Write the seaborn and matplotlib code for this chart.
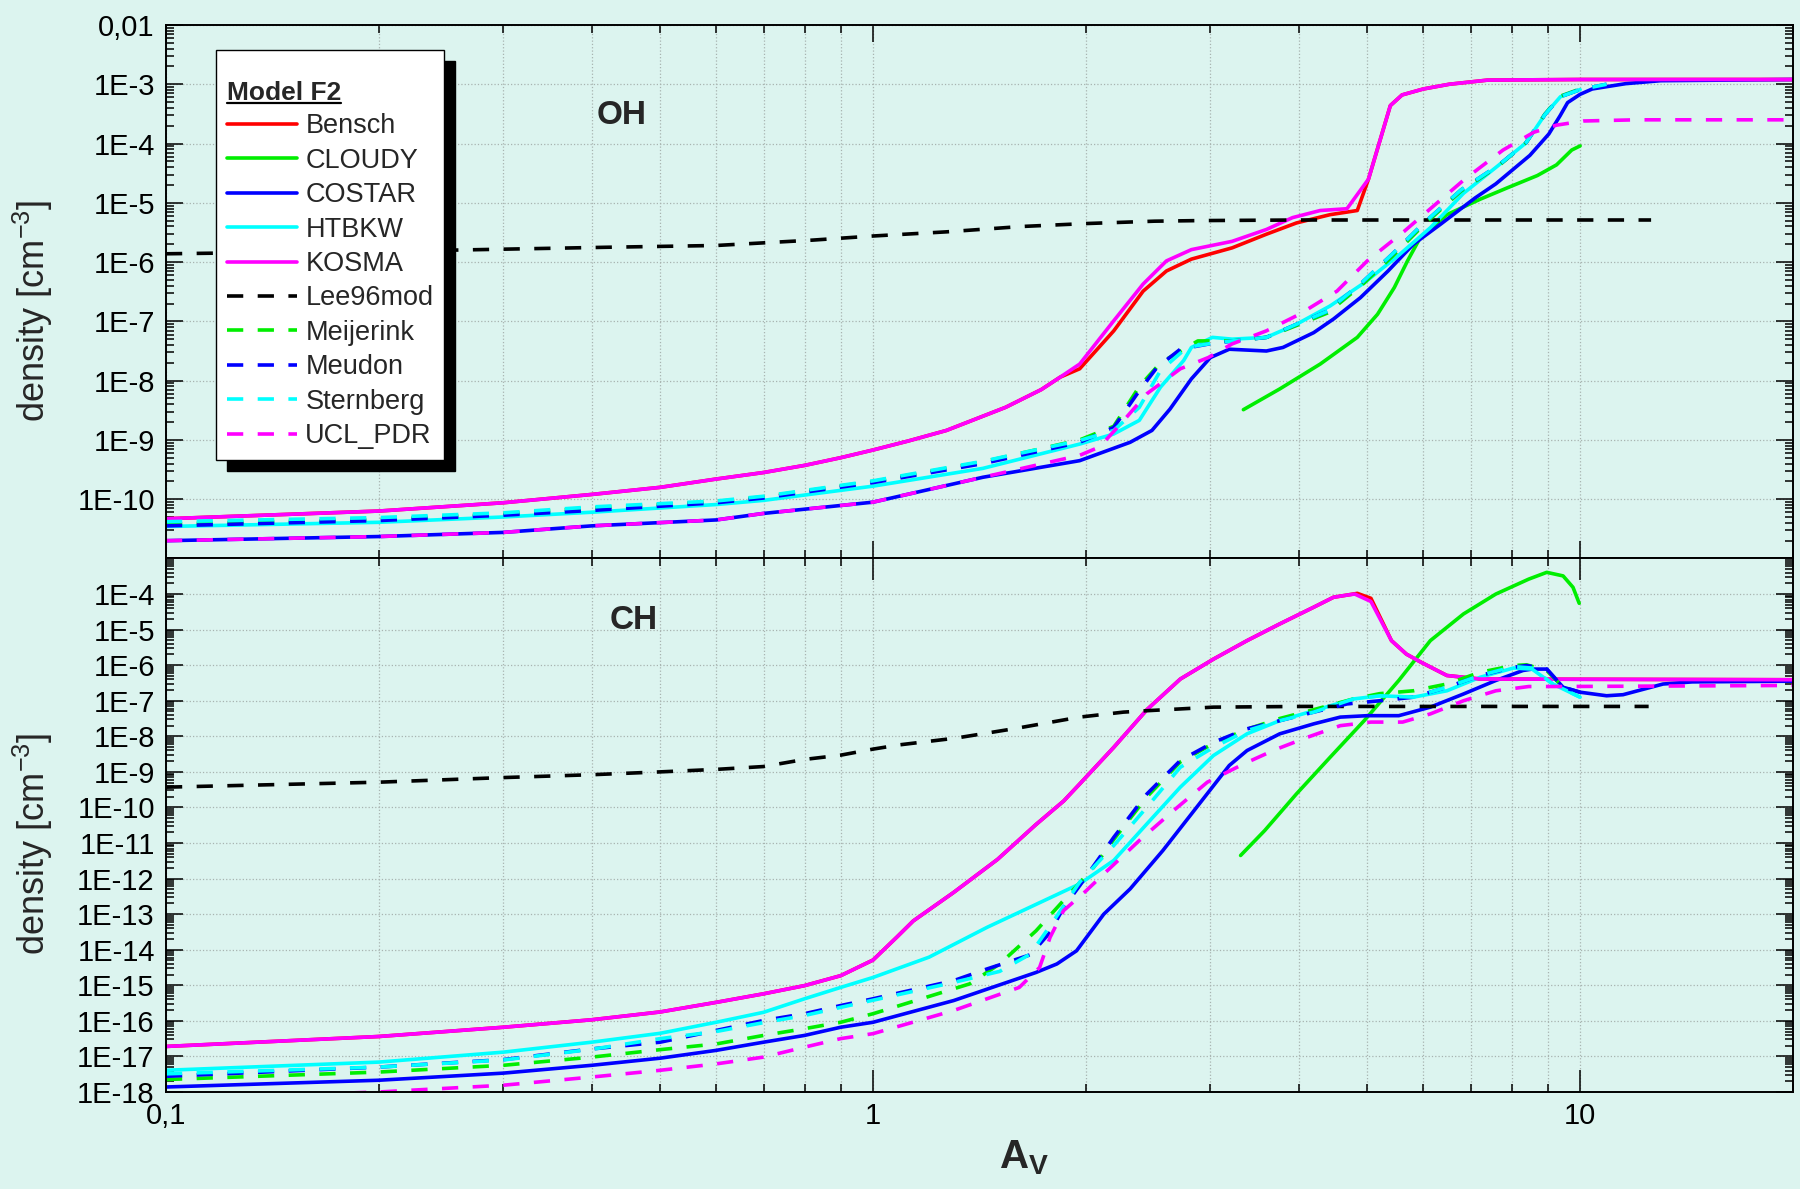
import numpy as np
import pandas as pd
import matplotlib
matplotlib.use('Agg')
import matplotlib.pyplot as plt
from matplotlib.lines import Line2D
from matplotlib.ticker import LogLocator, NullFormatter
import seaborn as sns

# modelos y estilos (orden de la leyenda)
models = ['Bensch', 'CLOUDY', 'COSTAR', 'HTBKW', 'KOSMA',
          'Lee96mod', 'Meijerink', 'Meudon', 'Sternberg', 'UCL_PDR']
colors = ['#ff0000', '#00ee00', '#0000ff', '#00ffff', '#ff00ff',
          '#000000', '#00ee00', '#0000ff', '#00ffff', '#ff00ff']
dashed = [False, False, False, False, False, True, True, True, True, True]

# ---- OH: A_V y log10(densidad) ----
oh_av_bensch = [0.1, 0.2, 0.3, 0.4, 0.5, 0.6, 0.7, 0.8, 0.9, 1.0, 1.12, 1.27, 1.43, 1.54, 1.73, 1.84, 1.96, 2.19,
                2.41, 2.6, 2.82, 3.22, 3.6, 3.97, 4.43, 4.84, 5.02, 5.39, 5.6, 6.0, 6.53, 7.4, 10, 20]
oh_lg_bensch = [-10.33, -10.2, -10.06, -9.92, -9.8, -9.66, -9.55, -9.43, -9.3, -9.17, -9.02, -8.84, -8.6, -8.45,
                -8.15, -7.94, -7.8, -7.16, -6.49, -6.15, -5.95, -5.76, -5.53, -5.34, -5.2, -5.13, -4.6, -3.36,
                -3.18, -3.08, -3.0, -2.93, -2.92, -2.92]
oh_av_kosma = [0.1, 0.2, 0.3, 0.4, 0.5, 0.6, 0.7, 0.8, 0.9, 1.0, 1.12, 1.27, 1.43, 1.54, 1.73, 1.84, 1.96, 2.19,
               2.41, 2.6, 2.82, 3.22, 3.6, 3.92, 4.29, 4.68, 5.02, 5.39, 5.6, 6.0, 6.53, 7.4, 10, 20]
oh_lg_kosma = [-10.33, -10.2, -10.06, -9.92, -9.8, -9.66, -9.55, -9.43, -9.3, -9.17, -9.02, -8.84, -8.6, -8.45,
               -8.15, -7.94, -7.72, -6.99, -6.37, -5.98, -5.79, -5.65, -5.45, -5.25, -5.13, -5.1, -4.6, -3.36,
               -3.18, -3.08, -3.0, -2.93, -2.92, -2.92]
oh_av_cloudy = [3.34, 3.76, 4.29, 4.84, 5.17, 5.46, 5.7, 5.94, 6.48, 7.22, 7.88, 8.7, 9.26, 9.73, 10]
oh_lg_cloudy = [-8.49, -8.14, -7.72, -7.27, -6.88, -6.43, -5.98, -5.59, -5.2, -4.94, -4.75, -4.54, -4.36, -4.11, -4.04]
oh_av_costar = [0.1, 0.2, 0.3, 0.4, 0.6, 0.7, 1.0, 1.43, 1.96, 2.31, 2.48, 2.63, 2.82, 3.0, 3.19, 3.6, 3.8, 4.2,
                4.48, 4.89, 5.35, 5.81, 6.35, 7.1, 7.6, 8.49, 9.03, 9.37, 9.6, 10.0, 10.4, 11.6, 13.0, 20]
oh_lg_costar = [-10.70, -10.63, -10.56, -10.45, -10.35, -10.24, -10.05, -9.63, -9.35, -9.04, -8.84, -8.48, -7.97,
                -7.61, -7.47, -7.5, -7.44, -7.19, -6.96, -6.6, -6.15, -5.7, -5.36, -4.92, -4.68, -4.20, -3.84,
                -3.53, -3.31, -3.17, -3.08, -2.99, -2.94, -2.92]
oh_av_htbkw = [0.1, 0.2, 0.3, 0.4, 0.6, 0.7, 1.0, 1.43, 1.96, 2.19, 2.38, 2.55, 2.75, 2.82, 3.02, 3.22, 3.6, 3.97,
               4.43, 4.95, 5.52, 6.14, 6.84, 7.68, 8.38, 8.92, 9.38, 10.0]
oh_lg_htbkw = [-10.46, -10.39, -10.30, -10.22, -10.09, -10.02, -9.78, -9.48, -9.07, -8.9, -8.67, -8.11, -7.66,
               -7.44, -7.27, -7.3, -7.27, -7.05, -6.74, -6.35, -5.9, -5.42, -4.84, -4.36, -3.99, -3.51, -3.21,
               -3.09]
oh_av_lee = [0.1, 0.25, 0.42, 0.6, 0.82, 1.0, 1.27, 1.62, 2.0, 2.5, 2.9, 4.0, 12.6]
oh_lg_lee = [-5.86, -5.80, -5.75, -5.72, -5.63, -5.56, -5.49, -5.40, -5.35, -5.31, -5.30, -5.29, -5.29]
oh_av_meijerink = [0.1, 0.2, 0.3, 0.4, 0.6, 0.7, 1.0, 1.43, 1.96, 2.19, 2.38, 2.55, 2.88, 3.22, 3.6, 3.97, 4.39,
                   4.92, 5.43, 6.0, 6.79, 7.68, 8.38, 8.92, 9.38, 10.0]
oh_lg_meijerink = [-10.42, -10.34, -10.25, -10.15, -10.04, -9.96, -9.7, -9.37, -9.0, -8.77, -8.1, -7.7, -7.33,
                   -7.33, -7.27, -7.07, -6.86, -6.38, -5.9, -5.38, -4.8, -4.37, -3.99, -3.5, -3.2, -3.08]
oh_av_meudon = [0.1, 0.2, 0.3, 0.4, 0.6, 0.7, 1.0, 1.43, 1.96, 2.19, 2.38, 2.52, 2.72, 3.02, 3.6, 3.97, 4.39,
                4.92, 5.43, 6.0, 6.79, 7.68, 8.38, 8.92, 9.38, 10.0, 10.9]
oh_lg_meudon = [-10.45, -10.36, -10.27, -10.19, -10.06, -9.98, -9.72, -9.4, -9.04, -8.79, -8.17, -7.78, -7.47,
                -7.37, -7.27, -7.05, -6.83, -6.34, -5.86, -5.35, -4.78, -4.36, -3.99, -3.51, -3.21, -3.09, -3.0]
oh_av_sternberg = [0.1, 0.2, 0.3, 0.4, 0.6, 0.7, 1.0, 1.43, 1.96, 2.19, 2.38, 2.55, 2.78, 3.05, 3.6, 3.97, 4.39,
                   4.92, 5.43, 6.0, 6.79, 7.68, 8.38, 8.92, 9.38, 10.0, 10.9]
oh_lg_sternberg = [-10.38, -10.31, -10.23, -10.13, -10.03, -9.95, -9.69, -9.36, -9.01, -8.84, -8.45, -7.83,
                   -7.44, -7.36, -7.27, -7.05, -6.83, -6.34, -5.86, -5.35, -4.78, -4.36, -3.99, -3.51, -3.21,
                   -3.09, -3.0]
oh_av_ucl = [0.1, 0.2, 0.3, 0.4, 0.6, 0.7, 1.0, 1.43, 1.96, 2.09, 2.24, 2.44, 2.72, 2.98, 3.22, 3.6, 4.01, 4.53,
             5.0, 5.64, 6.48, 6.87, 7.78, 8.6, 9.26, 10.1, 12, 20]
oh_lg_ucl = [-10.70, -10.63, -10.56, -10.45, -10.35, -10.24, -10.05, -9.63, -9.26, -9.12, -8.73, -8.22, -7.8,
             -7.61, -7.38, -7.16, -6.88, -6.49, -5.98, -5.48, -4.86, -4.6, -4.11, -3.81, -3.69, -3.62, -3.6, -3.6]

# ---- CH ----
ch_av_bensch = [0.1, 0.2, 0.3, 0.4, 0.5, 0.6, 0.7, 0.8, 0.9, 1.0, 1.08, 1.14, 1.3, 1.5, 1.7, 1.86, 1.96, 2.19,
                2.44, 2.72, 3.03, 3.38, 3.76, 4.2, 4.48, 4.68, 4.84, 5.06, 5.41, 5.68, 5.96, 6.48, 7.22, 20]
ch_lg_bensch = [-16.72, -16.44, -16.18, -15.97, -15.75, -15.48, -15.24, -15.01, -14.73, -14.29, -13.65, -13.19,
                -12.39, -11.46, -10.48, -9.82, -9.34, -8.31, -7.25, -6.39, -5.83, -5.31, -4.84, -4.37, -4.09,
                -4.03, -3.98, -4.12, -5.31, -5.69, -5.92, -6.29, -6.39, -6.41]
ch_av_kosma = [0.1, 0.2, 0.3, 0.4, 0.5, 0.6, 0.7, 0.8, 0.9, 1.0, 1.08, 1.14, 1.3, 1.5, 1.7, 1.86, 1.96, 2.19,
               2.44, 2.72, 3.03, 3.38, 3.76, 4.2, 4.48, 4.68, 4.8, 5.06, 5.41, 5.68, 5.96, 6.48, 7.22, 20]
ch_lg_kosma = [-16.72, -16.44, -16.18, -15.97, -15.75, -15.48, -15.24, -15.01, -14.73, -14.29, -13.65, -13.19,
               -12.39, -11.46, -10.48, -9.82, -9.34, -8.31, -7.25, -6.39, -5.83, -5.31, -4.84, -4.37, -4.09,
               -4.03, -4.0, -4.21, -5.31, -5.69, -5.92, -6.29, -6.39, -6.41]
ch_av_cloudy = [3.31, 3.58, 3.97, 4.43, 4.95, 5.54, 6.14, 6.84, 7.6, 8.46, 8.97, 9.46, 9.77, 9.97]
ch_lg_cloudy = [-11.35, -10.65, -9.62, -8.59, -7.56, -6.43, -5.31, -4.56, -4.0, -3.58, -3.39, -3.49, -3.81, -4.26]
ch_av_costar = [0.1, 0.2, 0.3, 0.4, 0.5, 0.6, 0.7, 0.8, 0.9, 1.0, 1.3, 1.7, 1.82, 1.94, 2.12, 2.31, 2.57, 2.87,
                3.19, 3.38, 3.76, 4.2, 4.58, 5.0, 5.54, 6.14, 6.84, 7.6, 8.3, 8.55, 8.97, 9.46, 10.0, 10.9, 11.5,
                13.1, 14.4, 20]
ch_lg_costar = [-17.86, -17.67, -17.47, -17.25, -17.05, -16.83, -16.6, -16.41, -16.18, -16.04, -15.43, -14.64,
                -14.4, -14.03, -13.0, -12.29, -11.21, -9.99, -8.82, -8.4, -7.93, -7.65, -7.46, -7.42, -7.42,
                -7.18, -6.81, -6.43, -6.15, -6.11, -6.11, -6.62, -6.76, -6.86, -6.83, -6.53, -6.47, -6.45]
ch_av_htbkw = [0.1, 0.2, 0.3, 0.4, 0.5, 0.6, 0.7, 0.8, 0.9, 1.0, 1.2, 1.45, 1.96, 2.19, 2.44, 2.72, 3.03, 3.38,
               3.76, 4.2, 4.78, 5.21, 5.81, 6.48, 7.22, 8.05, 8.55, 9.15, 10.0]
ch_lg_htbkw = [-17.39, -17.16, -16.88, -16.6, -16.35, -16.04, -15.76, -15.38, -15.06, -14.78, -14.21, -13.37,
               -12.15, -11.49, -10.46, -9.43, -8.54, -7.93, -7.56, -7.28, -6.95, -6.86, -6.9, -6.72, -6.34,
               -6.08, -6.11, -6.53, -6.9]
ch_av_lee = [0.1, 0.2, 0.3, 0.4, 0.5, 0.6, 0.7, 0.8, 0.9, 1.0, 1.09, 1.31, 1.59, 1.96, 2.26, 2.44, 3.03, 4.05, 12.5]
ch_lg_lee = [-9.43, -9.29, -9.16, -9.08, -9.0, -8.93, -8.85, -8.65, -8.53, -8.36, -8.24, -8.05, -7.78, -7.46,
             -7.32, -7.28, -7.18, -7.16, -7.16]
ch_av_meijerink = [0.1, 0.2, 0.3, 0.4, 0.5, 0.6, 0.7, 0.8, 0.9, 1.0, 1.37, 1.51, 1.7, 2.05, 2.19, 2.44, 2.72, 3.03,
                   3.38, 3.76, 4.2, 4.78, 5.21, 5.81, 6.48, 7.22, 8.05, 8.4, 8.97, 9.46]
ch_lg_meijerink = [-17.65, -17.44, -17.25, -17.02, -16.81, -16.65, -16.41, -16.22, -16.04, -15.8, -14.96, -14.4,
                   -13.47, -11.69, -10.9, -9.7, -8.72, -8.2, -7.8, -7.5, -7.25, -6.95, -6.8, -6.72, -6.53, -6.2,
                   -6.01, -5.99, -6.15, -6.62]
ch_av_meudon = [0.1, 0.2, 0.3, 0.4, 0.5, 0.6, 0.7, 0.8, 0.9, 1.0, 1.3, 1.45, 1.67, 1.78, 1.86, 1.96, 2.19, 2.44,
                2.72, 3.03, 3.38, 3.76, 4.2, 4.68, 5.21, 5.81, 6.48, 7.22, 8.05, 8.4, 8.97, 9.46, 10.0]
ch_lg_meudon = [-17.56, -17.3, -17.09, -16.79, -16.6, -16.27, -15.99, -15.8, -15.57, -15.38, -14.87, -14.54,
                -14.14, -13.51, -12.81, -12.2, -10.84, -9.62, -8.68, -8.17, -7.79, -7.56, -7.32, -7.09, -7.0,
                -6.9, -6.62, -6.29, -6.06, -6.01, -6.11, -6.62, -6.76]
ch_av_sternberg = [0.1, 0.2, 0.3, 0.4, 0.5, 0.6, 0.7, 0.8, 0.9, 1.0, 1.3, 1.51, 1.67, 1.8, 1.96, 2.19, 2.44, 2.72,
                   3.03, 3.38, 3.76, 4.2, 4.78, 5.21, 5.81, 6.48, 7.22, 8.05, 8.55, 9.15, 10.0]
ch_lg_sternberg = [-17.49, -17.3, -17.1, -16.8, -16.5, -16.3, -16.05, -15.85, -15.62, -15.42, -14.92, -14.61,
                   -14.12, -13.19, -12.1, -11.07, -9.99, -8.87, -8.31, -7.84, -7.56, -7.32, -6.95, -6.86, -6.9,
                   -6.62, -6.29, -6.04, -6.08, -6.53, -6.9]
ch_av_ucl = [0.1, 0.2, 0.3, 0.4, 0.5, 0.6, 0.7, 0.8, 0.9, 1.0, 1.3, 1.61, 1.72, 1.78, 1.86, 2.0, 2.12, 2.38, 2.66,
             2.97, 3.34, 3.7, 4.11, 4.58, 5.06, 5.61, 6.14, 6.84, 7.6, 8.46, 9.46, 20]
ch_lg_ucl = [-18.2, -18.0, -17.81, -17.58, -17.39, -17.21, -17.02, -16.74, -16.5, -16.36, -15.71, -15.06, -14.5,
             -13.65, -12.9, -12.35, -11.87, -10.93, -10.09, -9.29, -8.78, -8.38, -8.03, -7.7, -7.6, -7.6, -7.37,
             -7.0, -6.72, -6.6, -6.6, -6.57]

# ejes
x_ticks = [0.1, 1, 10]
x_tick_labels = ['0,1', '1', '10']
oh_yticks = [1e-2, 1e-3, 1e-4, 1e-5, 1e-6, 1e-7, 1e-8, 1e-9, 1e-10]
oh_ytick_labels = ['0,01', '1E-3', '1E-4', '1E-5', '1E-6', '1E-7', '1E-8', '1E-9', '1E-10']
ch_yticks = [1e-4, 1e-5, 1e-6, 1e-7, 1e-8, 1e-9, 1e-10, 1e-11, 1e-12, 1e-13, 1e-14, 1e-15, 1e-16, 1e-17, 1e-18]
ch_ytick_labels = ['1E-4', '1E-5', '1E-6', '1E-7', '1E-8', '1E-9', '1E-10', '1E-11', '1E-12', '1E-13',
                   '1E-14', '1E-15', '1E-16', '1E-17', '1E-18']

BG = '#dcf4ef'
LW = 2.6
DASH = (4.5, 4.0)


def long_table(series: dict, panel: str) -> pd.DataFrame:
    """Junta las series de un panel en una tabla larga."""
    frames = []
    for name, (av, lg) in series.items():
        frames.append(pd.DataFrame({'model': name, 'av': av,
                                    'density': 10.0 ** np.asarray(lg), 'panel': panel}))
    return pd.concat(frames, ignore_index=True)


def style_axis(ax, yticks, ylabels, ylim):
    ax.set_xscale('log')
    ax.set_yscale('log')
    ax.set_xlim(0.1, 20)
    ax.set_ylim(*ylim)
    ax.set_facecolor(BG)
    ax.set_yticks(yticks, ylabels)
    ax.set_xticks(x_ticks, x_tick_labels)
    ax.xaxis.set_minor_locator(LogLocator(base=10, subs=np.arange(2, 10), numticks=100))
    ax.yaxis.set_minor_locator(LogLocator(base=10, subs=np.arange(2, 10), numticks=100))
    ax.xaxis.set_minor_formatter(NullFormatter())
    ax.yaxis.set_minor_formatter(NullFormatter())
    ax.tick_params(which='both', direction='in', top=True, right=True, width=1.1, colors='black')
    ax.tick_params(which='major', length=12, labelsize=21, pad=8)
    ax.tick_params(which='minor', length=6)
    ax.grid(True, which='major', axis='y', ls=':', color='#a8b4b0', lw=0.9)
    ax.grid(True, which='both', axis='x', ls=':', color='#a8b4b0', lw=0.9)
    for sp in ax.spines.values():
        sp.set_color('black')
        sp.set_linewidth(1.4)
    ax.set_ylabel('density [cm$^{-3}$]', fontsize=26)
    ax.yaxis.set_label_coords(-0.068, 0.465)


oh = {'Bensch': (oh_av_bensch, oh_lg_bensch), 'CLOUDY': (oh_av_cloudy, oh_lg_cloudy),
      'COSTAR': (oh_av_costar, oh_lg_costar), 'HTBKW': (oh_av_htbkw, oh_lg_htbkw),
      'KOSMA': (oh_av_kosma, oh_lg_kosma), 'Lee96mod': (oh_av_lee, oh_lg_lee),
      'Meijerink': (oh_av_meijerink, oh_lg_meijerink), 'Meudon': (oh_av_meudon, oh_lg_meudon),
      'Sternberg': (oh_av_sternberg, oh_lg_sternberg), 'UCL_PDR': (oh_av_ucl, oh_lg_ucl)}
ch = {'Bensch': (ch_av_bensch, ch_lg_bensch), 'CLOUDY': (ch_av_cloudy, ch_lg_cloudy),
      'COSTAR': (ch_av_costar, ch_lg_costar), 'HTBKW': (ch_av_htbkw, ch_lg_htbkw),
      'KOSMA': (ch_av_kosma, ch_lg_kosma), 'Lee96mod': (ch_av_lee, ch_lg_lee),
      'Meijerink': (ch_av_meijerink, ch_lg_meijerink), 'Meudon': (ch_av_meudon, ch_lg_meudon),
      'Sternberg': (ch_av_sternberg, ch_lg_sternberg), 'UCL_PDR': (ch_av_ucl, ch_lg_ucl)}

df = pd.concat([long_table(oh, 'OH'), long_table(ch, 'CH')], ignore_index=True)

sns.set_theme(style='ticks')
plt.rcParams['font.family'] = ['Liberation Sans', 'DejaVu Sans']
plt.rcParams['mathtext.fontset'] = 'custom'
plt.rcParams['mathtext.rm'] = 'Liberation Sans'
plt.rcParams['mathtext.bf'] = 'Liberation Sans:bold'
plt.rcParams['mathtext.it'] = 'Liberation Sans:italic'

palette = dict(zip(models, colors))
dashes = {m: (DASH if d else '') for m, d in zip(models, dashed)}

fig, (ax1, ax2) = plt.subplots(2, 1, figsize=(18, 11.89), dpi=100, sharex=True)
fig.patch.set_facecolor(BG)
fig.subplots_adjust(left=0.0922, right=0.9961, top=0.979, bottom=0.0816, hspace=0)

for ax, panel in [(ax1, 'OH'), (ax2, 'CH')]:
    sns.lineplot(data=df[df['panel'] == panel], x='av', y='density', hue='model', style='model',
                 hue_order=models, style_order=models, palette=palette, dashes=dashes,
                 estimator=None, sort=False, lw=LW, legend=False, ax=ax)

style_axis(ax1, oh_yticks, oh_ytick_labels, (1e-11, 1e-2))
style_axis(ax2, ch_yticks, ch_ytick_labels, (1e-18, 1e-3))
ax1.tick_params(labelbottom=False)
ax1.set_xlabel('')
ax2.set_xlabel('')
ax2.tick_params(axis='x', which='major', length=16, pad=7)

ax1.text(0.280, 0.830, 'OH', transform=ax1.transAxes, fontsize=24, fontweight='bold',
         ha='center', va='center')
ax2.text(0.2876, 0.884, 'CH', transform=ax2.transAxes, fontsize=24, fontweight='bold',
         ha='center', va='center')
fig.text(0.569, 0.026, r'$\mathbf{A_V}$', fontsize=29, ha='center', va='center')

# leyenda con sombra negra
handles = [Line2D([], [], color=c, lw=LW, dashes=(DASH if d else (None, None)))
           for c, d in zip(colors, dashed)]
leg = ax1.legend(handles, models, loc='upper left', bbox_to_anchor=(0.0307, 0.953), borderaxespad=0,
                 title='\nModel F2', title_fontproperties={'weight': 'bold', 'size': 19}, alignment='left',
                 fontsize=19.5, handlelength=2.6, handletextpad=0.3, labelspacing=0.31, borderpad=0.4,
                 frameon=True, fancybox=False, framealpha=1, facecolor='white', edgecolor='black',
                 shadow={'ox': 8, 'oy': -8, 'facecolor': 'black', 'edgecolor': 'black', 'alpha': 1})
leg.get_frame().set_linewidth(1.0)
leg.get_title().set_linespacing(0.8)

# subrayado del titulo de la leyenda
fig.canvas.draw()
bb = leg.get_title().get_window_extent()
W, H = fig.bbox.width, fig.bbox.height
y_line = (bb.y0 + 2) / H
fig.add_artist(Line2D([bb.x0 / W, bb.x1 / W], [y_line, y_line], color='black', lw=1.6,
                      transform=fig.transFigure))

fig.savefig('out.png', dpi=100, facecolor=BG)
plt.close(fig)
